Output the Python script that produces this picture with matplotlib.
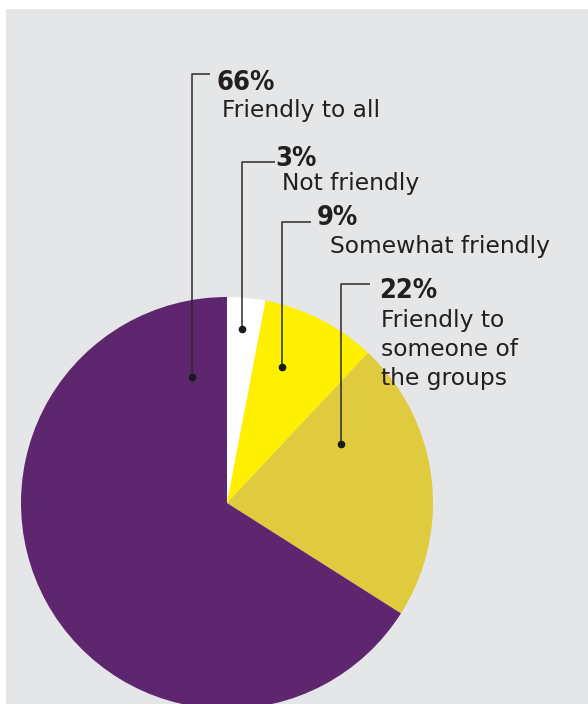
import matplotlib.pyplot as plt
from matplotlib.patches import Rectangle

# Share of respondents by attitude
labels = ["Not friendly", "Somewhat friendly", "Friendly to\nsomeone of\nthe groups", "Friendly to all"]
shares = [3, 9, 22, 66]
colors = ["#ffffff", "#fff000", "#e0cb3e", "#5f2670"]

# leader layout: dot (x, y), elbow y, end of horizontal stub, label x, text x (pixel coords, y down)
dots = [(242, 329), (282, 367), (341, 444), (192, 377)]
elbow_y = [162, 222, 284, 74]
stub_end = [275, 311, 370, 210]
pct_x = [275, 317, 379, 217]
pct_y = [159, 218, 291, 83]
txt_x = [282, 330, 381, 222]
txt_y = [172, 235, 309, 99]

W, H = 588, 704
fig = plt.figure(figsize=(W / 100, H / 100), dpi=100)
ax = fig.add_axes([0, 0, 1, 1])
fig.patch.set_facecolor("white")

ax.add_patch(Rectangle((6, 0), W - 6, H - 9, facecolor="#e5e6e8", edgecolor="none", zorder=0))

cx, cy, r = 227, H - 503, 206
ax.pie(shares, colors=colors, startangle=90, counterclock=False,
       center=(cx, cy), radius=r, frame=True,
       wedgeprops=dict(linewidth=0, zorder=1))

line_col = "#2b2b2b"
for i in range(len(shares)):
    x0, y0 = dots[i]
    ax.plot([x0, x0, stub_end[i]], [H - y0, H - elbow_y[i], H - elbow_y[i]],
            color=line_col, lw=1.1, zorder=3, solid_capstyle="butt")
    ax.plot(x0, H - y0, "o", color="#1a1a1a", ms=4.5, zorder=4)
    ax.text(pct_x[i], H - pct_y[i], f"{shares[i]}%", fontsize=19.5, fontweight="bold",
            family="DejaVu Sans", fontstretch="condensed", color="#231f20",
            va="center", ha="left", zorder=5)
    ax.text(txt_x[i], H - txt_y[i], labels[i], fontsize=16.8, family="DejaVu Sans",
            color="#231f20", va="top", ha="left", linespacing=1.32, zorder=5)

ax.set_xlim(0, W)
ax.set_ylim(0, H)
ax.set_aspect("auto")
ax.axis("off")

fig.savefig("out.png", dpi=100)
